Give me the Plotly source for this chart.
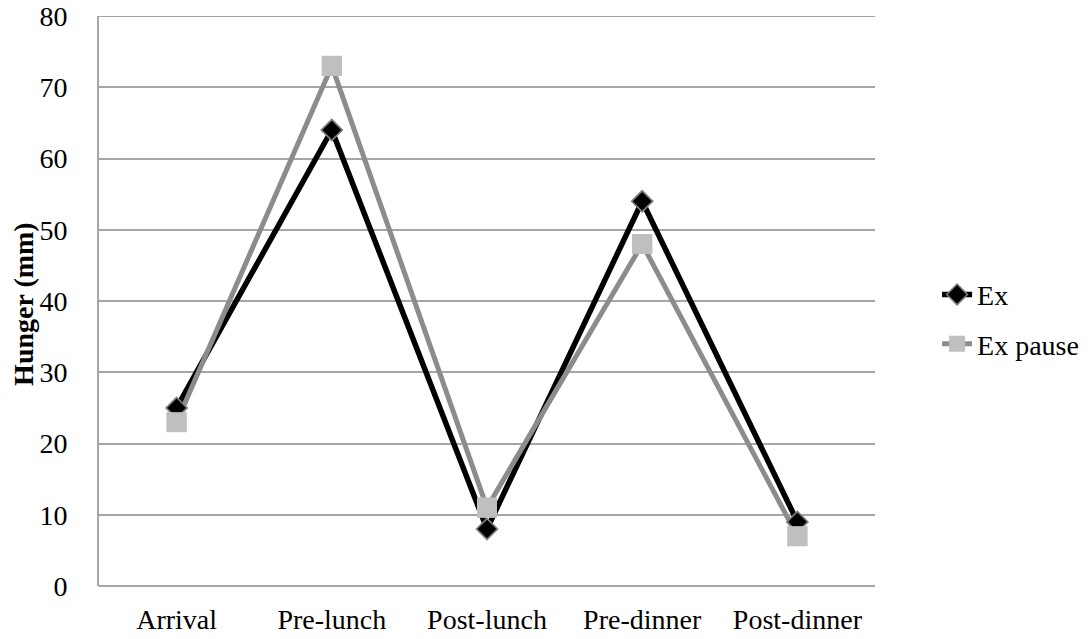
import plotly.graph_objects as go

# Hunger ratings across the day for two exercise conditions
categories = ["Arrival", "Pre-lunch", "Post-lunch", "Pre-dinner", "Post-dinner"]
ex_values = [25, 64, 8, 54, 9]
ex_pause_values = [23, 73, 11, 48, 7]
y_ticks = [0, 10, 20, 30, 40, 50, 60, 70, 80]

FONT = "Liberation Serif"
FS = 28
GRID = "#A6A6A6"
EX_LINE = "#000000"
EX_MARK_EDGE = "#7F7F7F"
PAUSE_LINE = "#8C8C8C"
PAUSE_MARK = "#BFBFBF"

ex_marker = dict(symbol="diamond", size=16, color=EX_LINE,
                 line=dict(color=EX_MARK_EDGE, width=1.5))
pause_marker = dict(symbol="square", size=20, color=PAUSE_MARK,
                    line=dict(color=PAUSE_MARK, width=0))

fig = go.Figure()

# connecting lines (with legend entries)
fig.add_trace(go.Scatter(
    x=categories, y=ex_values, name="Ex", mode="lines+markers",
    line=dict(color=EX_LINE, width=5.5), marker=ex_marker,
    legendgroup="a",
))
fig.add_trace(go.Scatter(
    x=categories, y=ex_pause_values, name="Ex pause", mode="lines+markers",
    line=dict(color=PAUSE_LINE, width=5), marker=pause_marker,
    legendgroup="b",
))
# markers sit above both lines
fig.add_trace(go.Scatter(
    x=categories, y=ex_values, mode="markers", marker=ex_marker,
    showlegend=False, hoverinfo="skip",
))
fig.add_trace(go.Scatter(
    x=categories, y=ex_pause_values, mode="markers", marker=pause_marker,
    showlegend=False, hoverinfo="skip",
))

fig.update_layout(
    width=1088, height=639,
    margin=dict(l=99, r=213, t=16, b=53, autoexpand=False),
    paper_bgcolor="white", plot_bgcolor="white",
    font=dict(family=FONT, size=FS, color="black"),
    showlegend=True,
    legend=dict(
        x=1.08, xanchor="left", y=0.468, yanchor="middle",
        font=dict(family=FONT, size=FS, color="black"),
        traceorder="grouped", tracegroupgap=10,
        bgcolor="rgba(0,0,0,0)",
    ),
    xaxis=dict(
        type="category", categoryorder="array", categoryarray=categories,
        range=[-0.5, 4.5], showgrid=False, zeroline=False,
        showline=False, ticks="", ticklabelstandoff=14, automargin=False,
        tickfont=dict(family=FONT, size=FS, color="black"),
    ),
    yaxis=dict(
        range=[y_ticks[0], y_ticks[-1]], tickvals=y_ticks,
        ticktext=[str(v) for v in y_ticks],
        showgrid=True, gridcolor=GRID, gridwidth=2,
        zeroline=True, zerolinecolor=GRID, zerolinewidth=2,
        showline=True, linecolor=GRID, linewidth=2,
        ticks="", ticklabelstandoff=24, automargin=False,
        tickfont=dict(family=FONT, size=FS, color="black"),
    ),
    # top gridline at the axis maximum
    shapes=[dict(
        type="line", xref="paper", yref="y", x0=0, x1=1,
        y0=y_ticks[-1], y1=y_ticks[-1],
        line=dict(color=GRID, width=2), layer="below",
    )],
    annotations=[dict(
        text="<b>Hunger (mm)</b>", textangle=-90,
        xref="paper", yref="paper", x=-0.0966, y=0.495,
        xanchor="center", yanchor="middle", showarrow=False,
        font=dict(family=FONT, size=FS, color="black"),
    )],
)

fig.write_html("out.html")
